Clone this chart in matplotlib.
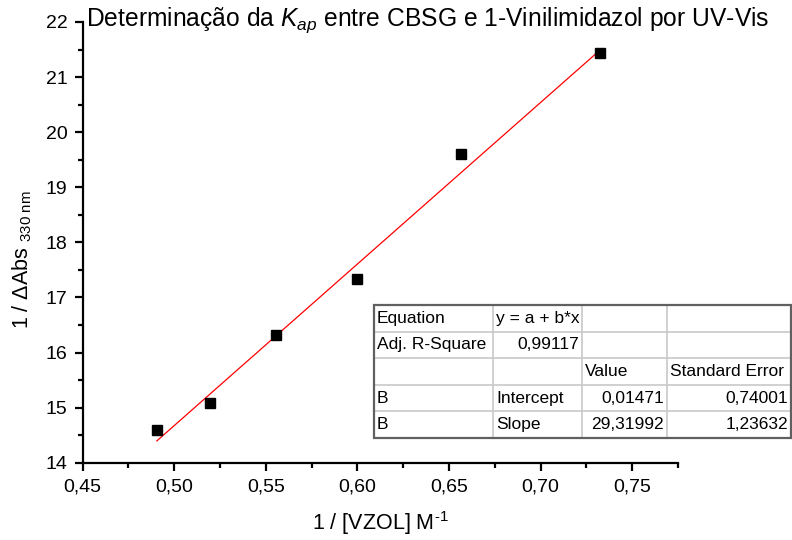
import numpy as np
import matplotlib.pyplot as plt
from matplotlib.ticker import MultipleLocator, FuncFormatter
from matplotlib.patches import Rectangle

plt.rcParams['font.family'] = ['Liberation Sans', 'DejaVu Sans']
plt.rcParams['mathtext.fontset'] = 'custom'
plt.rcParams['mathtext.rm'] = 'Liberation Sans'
plt.rcParams['mathtext.it'] = 'Liberation Sans:italic'

# dados experimentais
inv_vzol = [0.4905, 0.5195, 0.5554, 0.5996, 0.6568, 0.7326]
inv_dabs = [14.60, 15.09, 16.32, 17.34, 19.61, 21.43]

# ajuste linear
intercept = 0.01471
slope = 29.31992

table_rows = [
    ['Equation', 'y = a + b*x', '', ''],
    ['Adj. R-Square', '0,99117', '', ''],
    ['', '', 'Value', 'Standard Error'],
    ['B', 'Intercept', '0,01471', '0,74001'],
    ['B', 'Slope', '29,31992', '1,23632'],
]
col_px = [119, 89, 85, 124]

fig = plt.figure(figsize=(7.92, 5.4), dpi=100)
ax = fig.add_axes([0.1044, 0.1431, 0.7516, 0.8162])

xs = np.array([min(inv_vzol), max(inv_vzol)])
ax.plot(xs, intercept + slope * xs, color='red', lw=0.9)
ax.plot(inv_vzol, inv_dabs, 's', color='black', ms=7.5)

ax.set_xlim(0.45, 0.775)
ax.set_ylim(14, 22)
ax.xaxis.set_major_locator(MultipleLocator(0.05))
ax.xaxis.set_minor_locator(MultipleLocator(0.025))
ax.yaxis.set_major_locator(MultipleLocator(1))
ax.yaxis.set_minor_locator(MultipleLocator(0.5))
ax.xaxis.set_major_formatter(FuncFormatter(lambda v, p: f'{v:.2f}'.replace('.', ',')))

for s in ['top', 'right']:
    ax.spines[s].set_visible(False)
for s in ['left', 'bottom']:
    ax.spines[s].set_linewidth(1.6)
ax.tick_params(which='major', length=6, width=1.6, labelsize=14, direction='out', pad=5)
ax.tick_params(which='minor', length=3.5, width=1.6, direction='out')

ax.set_xlabel('1 / [VZOL] M$^{\\mathregular{\u2010}1}$', fontsize=15.5, labelpad=10)
ax.set_ylabel(r'1 / $\mathregular{\Delta}$Abs $_{\mathregular{330\ nm}}$', fontsize=15.5)
ax.yaxis.set_label_coords(-0.082, 0.46)

fig.text(0.540, 1 - 26 / 540, r'Determinação da $K_{ap}$ entre CBSG e 1-Vinilimidazol por UV-Vis',
         ha='center', va='baseline', fontsize=17.7)

# tabela de resultados
tax = fig.add_axes([374 / 792, 1 - 438 / 540, 417 / 792, 133 / 540])
tax.set_xlim(0, sum(col_px))
tax.set_ylim(len(table_rows), 0)
tax.axis('off')
tax.add_patch(Rectangle((0, 0), 1, 1, transform=tax.transAxes, facecolor='white',
                        edgecolor='none', zorder=0))
edges = np.concatenate([[0], np.cumsum(col_px)])
for xe in edges[1:-1]:
    tax.plot([xe, xe], [0, len(table_rows)], color='#c8c8c8', lw=1.2, zorder=1)
for r in range(1, len(table_rows)):
    tax.plot([0, edges[-1]], [r, r], color='#c8c8c8', lw=1.2, zorder=1)
tax.add_patch(Rectangle((0, 0), 1, 1, transform=tax.transAxes, fill=False,
                        edgecolor='#606060', lw=1.6, clip_on=False, zorder=2))

right_cells = {(1, 1), (3, 2), (3, 3), (4, 2), (4, 3)}
pad = 3
for r, row in enumerate(table_rows):
    for c, txt in enumerate(row):
        if not txt:
            continue
        if (r, c) in right_cells:
            tax.text(edges[c + 1] - pad, r + 0.5, txt, ha='right', va='center', fontsize=12.5)
        else:
            tax.text(edges[c] + pad, r + 0.5, txt, ha='left', va='center', fontsize=12.5)

fig.savefig('out.png', dpi=100)
